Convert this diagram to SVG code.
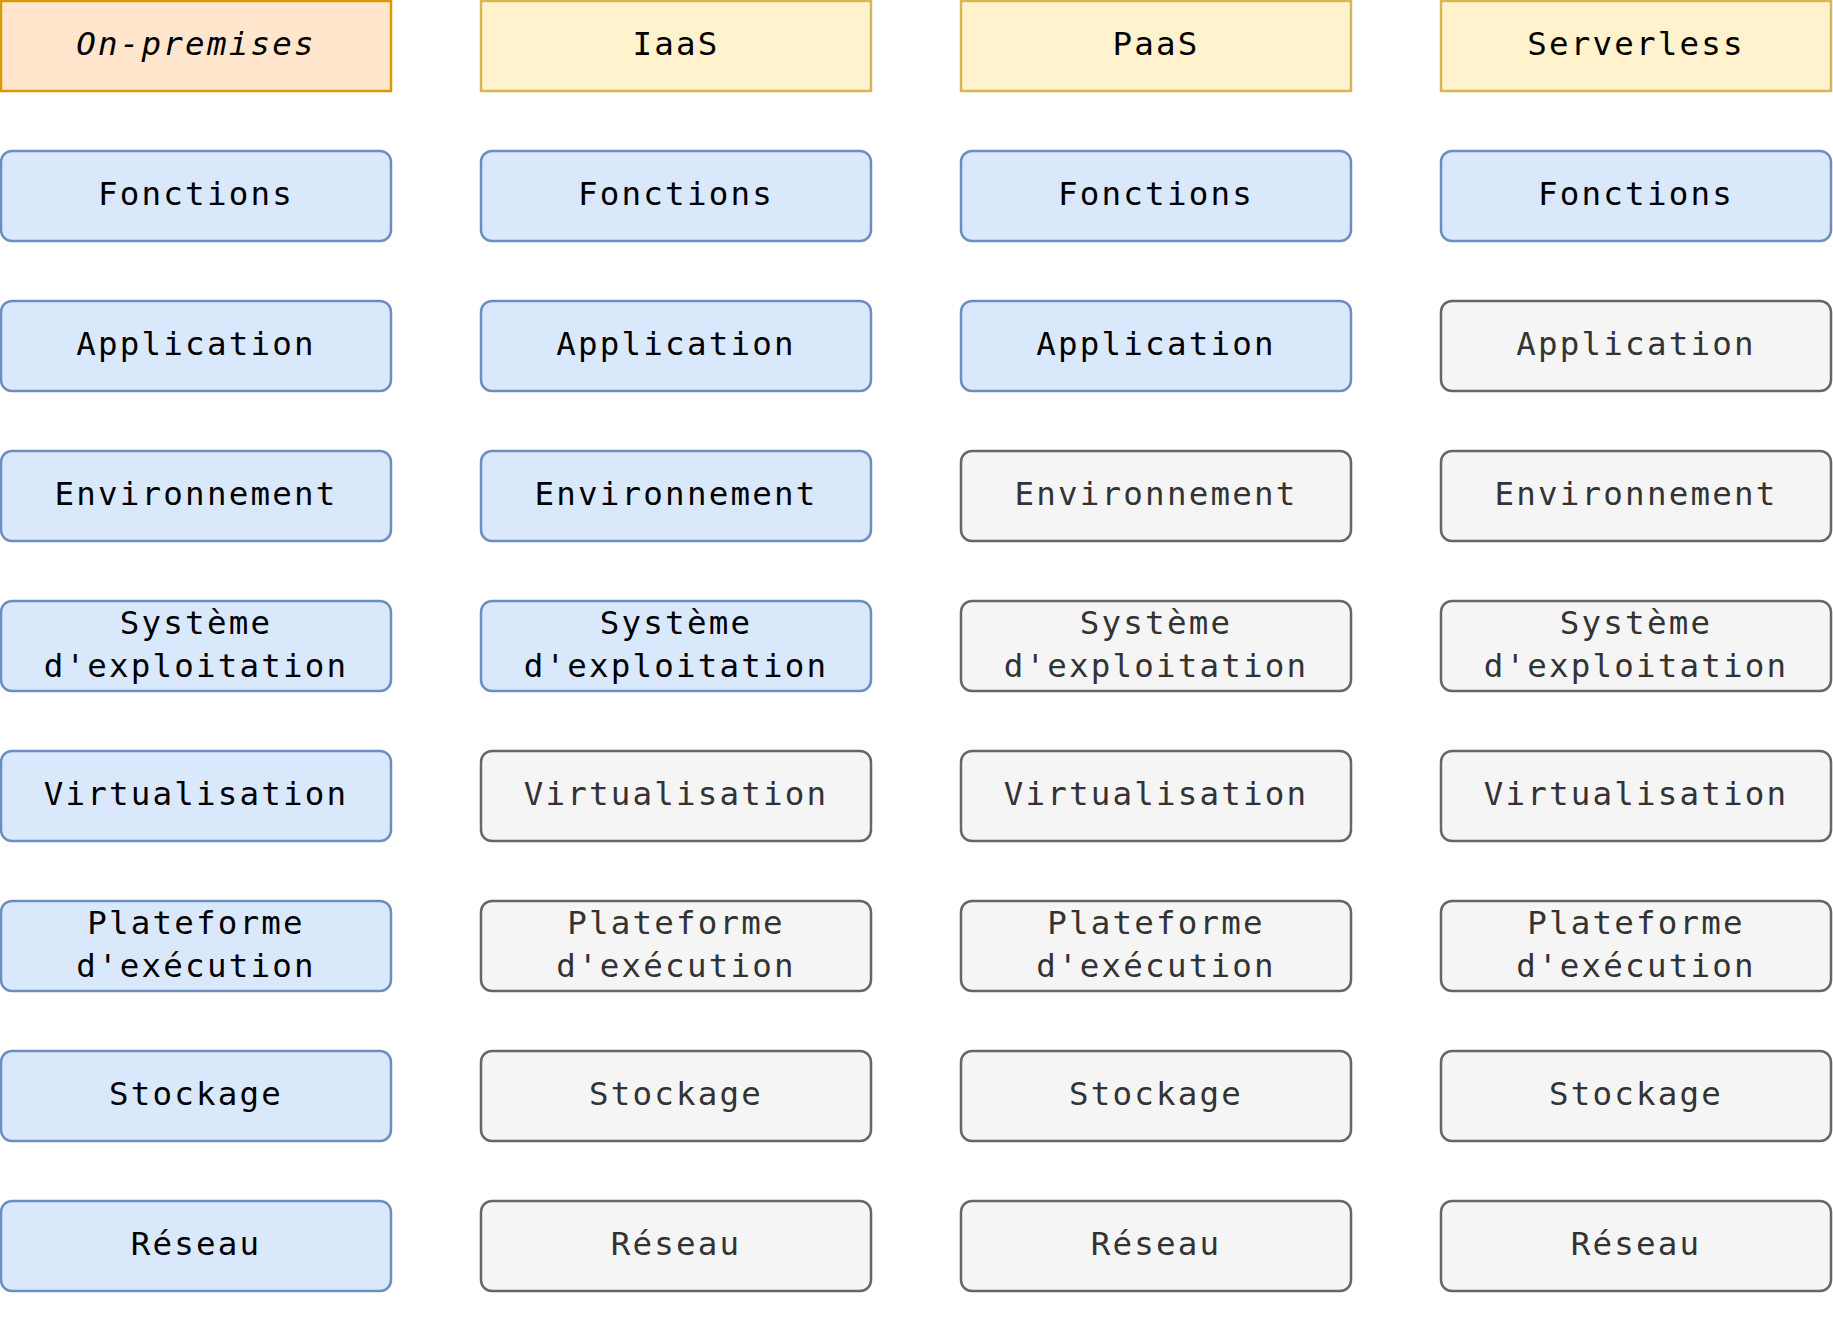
<svg xmlns="http://www.w3.org/2000/svg" width="1833" height="1326" viewBox="0 0 1833 1326">
<style>
text{font-family:"DejaVu Sans Mono","Liberation Mono",monospace;font-size:32.5px;letter-spacing:2.2px;text-anchor:middle}
.hd1 rect{fill:#ffe6cc;stroke:#d79b00;stroke-width:2.5}
.hd rect{fill:#fff2cc;stroke:#d6b656;stroke-width:2.5}
.b rect{fill:#dae8fc;stroke:#6c8ebf;stroke-width:2.5}
.g rect{fill:#f5f5f5;stroke:#666666;stroke-width:2.5}
.b text,.hd text,.hd1 text{fill:#000}
.g text{fill:#333333}
.it{font-style:italic}
</style>
<g id="connectors"/>
<g id="h1" class="hd1"><rect x="1" y="1" width="390" height="90"/><text class="it" x="196" y="55">On-premises</text></g>
<g id="h2" class="hd"><rect x="481" y="1" width="390" height="90"/><text x="676" y="55">IaaS</text></g>
<g id="h3" class="hd"><rect x="961" y="1" width="390" height="90"/><text x="1156" y="55">PaaS</text></g>
<g id="h4" class="hd"><rect x="1441" y="1" width="390" height="90"/><text x="1636" y="55">Serverless</text></g>

<g id="c1r1" class="b"><rect x="1" y="151" width="390" height="90" rx="11"/><text x="196" y="205">Fonctions</text></g>
<g id="c2r1" class="b"><rect x="481" y="151" width="390" height="90" rx="11"/><text x="676" y="205">Fonctions</text></g>
<g id="c3r1" class="b"><rect x="961" y="151" width="390" height="90" rx="11"/><text x="1156" y="205">Fonctions</text></g>
<g id="c4r1" class="b"><rect x="1441" y="151" width="390" height="90" rx="11"/><text x="1636" y="205">Fonctions</text></g>

<g id="c1r2" class="b"><rect x="1" y="301" width="390" height="90" rx="11"/><text x="196" y="355">Application</text></g>
<g id="c2r2" class="b"><rect x="481" y="301" width="390" height="90" rx="11"/><text x="676" y="355">Application</text></g>
<g id="c3r2" class="b"><rect x="961" y="301" width="390" height="90" rx="11"/><text x="1156" y="355">Application</text></g>
<g id="c4r2" class="g"><rect x="1441" y="301" width="390" height="90" rx="11"/><text x="1636" y="355">Application</text></g>

<g id="c1r3" class="b"><rect x="1" y="451" width="390" height="90" rx="11"/><text x="196" y="505">Environnement</text></g>
<g id="c2r3" class="b"><rect x="481" y="451" width="390" height="90" rx="11"/><text x="676" y="505">Environnement</text></g>
<g id="c3r3" class="g"><rect x="961" y="451" width="390" height="90" rx="11"/><text x="1156" y="505">Environnement</text></g>
<g id="c4r3" class="g"><rect x="1441" y="451" width="390" height="90" rx="11"/><text x="1636" y="505">Environnement</text></g>

<g id="c1r4" class="b"><rect x="1" y="601" width="390" height="90" rx="11"/><text x="196" y="634">Système</text><text x="196" y="677">d'exploitation</text></g>
<g id="c2r4" class="b"><rect x="481" y="601" width="390" height="90" rx="11"/><text x="676" y="634">Système</text><text x="676" y="677">d'exploitation</text></g>
<g id="c3r4" class="g"><rect x="961" y="601" width="390" height="90" rx="11"/><text x="1156" y="634">Système</text><text x="1156" y="677">d'exploitation</text></g>
<g id="c4r4" class="g"><rect x="1441" y="601" width="390" height="90" rx="11"/><text x="1636" y="634">Système</text><text x="1636" y="677">d'exploitation</text></g>

<g id="c1r5" class="b"><rect x="1" y="751" width="390" height="90" rx="11"/><text x="196" y="805">Virtualisation</text></g>
<g id="c2r5" class="g"><rect x="481" y="751" width="390" height="90" rx="11"/><text x="676" y="805">Virtualisation</text></g>
<g id="c3r5" class="g"><rect x="961" y="751" width="390" height="90" rx="11"/><text x="1156" y="805">Virtualisation</text></g>
<g id="c4r5" class="g"><rect x="1441" y="751" width="390" height="90" rx="11"/><text x="1636" y="805">Virtualisation</text></g>

<g id="c1r6" class="b"><rect x="1" y="901" width="390" height="90" rx="11"/><text x="196" y="934">Plateforme</text><text x="196" y="977">d'exécution</text></g>
<g id="c2r6" class="g"><rect x="481" y="901" width="390" height="90" rx="11"/><text x="676" y="934">Plateforme</text><text x="676" y="977">d'exécution</text></g>
<g id="c3r6" class="g"><rect x="961" y="901" width="390" height="90" rx="11"/><text x="1156" y="934">Plateforme</text><text x="1156" y="977">d'exécution</text></g>
<g id="c4r6" class="g"><rect x="1441" y="901" width="390" height="90" rx="11"/><text x="1636" y="934">Plateforme</text><text x="1636" y="977">d'exécution</text></g>

<g id="c1r7" class="b"><rect x="1" y="1051" width="390" height="90" rx="11"/><text x="196" y="1105">Stockage</text></g>
<g id="c2r7" class="g"><rect x="481" y="1051" width="390" height="90" rx="11"/><text x="676" y="1105">Stockage</text></g>
<g id="c3r7" class="g"><rect x="961" y="1051" width="390" height="90" rx="11"/><text x="1156" y="1105">Stockage</text></g>
<g id="c4r7" class="g"><rect x="1441" y="1051" width="390" height="90" rx="11"/><text x="1636" y="1105">Stockage</text></g>

<g id="c1r8" class="b"><rect x="1" y="1201" width="390" height="90" rx="11"/><text x="196" y="1255">Réseau</text></g>
<g id="c2r8" class="g"><rect x="481" y="1201" width="390" height="90" rx="11"/><text x="676" y="1255">Réseau</text></g>
<g id="c3r8" class="g"><rect x="961" y="1201" width="390" height="90" rx="11"/><text x="1156" y="1255">Réseau</text></g>
<g id="c4r8" class="g"><rect x="1441" y="1201" width="390" height="90" rx="11"/><text x="1636" y="1255">Réseau</text></g>
</svg>
